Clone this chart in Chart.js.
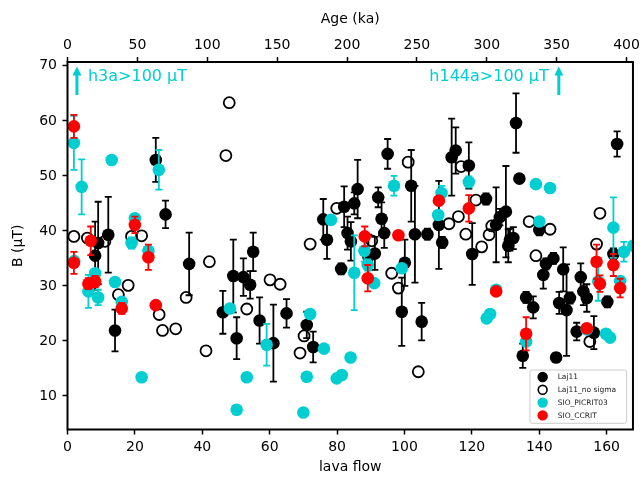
<!DOCTYPE html>
<html>
<head>
<meta charset="utf-8">
<script src="https://cdn.jsdelivr.net/npm/chart.js@4.4.1/dist/chart.umd.min.js"></script>
<style>
  html, body { margin: 0; padding: 0; background: #fff; }
  canvas { display: block; }
</style>
</head>
<body>
<canvas id="grafico" width="643" height="477"></canvas>
<script>
// Laj11 (com sigma)
const laj11Fluxo = [8.2, 9.1, 12.1, 14.1, 26.2, 29.1, 36.1, 46.1, 49.2, 50.2, 52.2, 54.2, 55.1, 57.0, 61.1, 65.0, 71.0, 72.9, 75.9, 77.0, 81.2, 82.1, 83.1, 84.1, 85.1, 86.1, 89.3, 91.2, 92.2, 93.2, 94.0, 95.0, 99.2, 100.1, 102.0, 103.1, 105.1, 106.8, 110.2, 111.2, 114.0, 115.2, 119.1, 120.1, 124.2, 127.2, 128.3, 130.1, 130.8, 131.3, 132.3, 133.1, 134.1, 135.1, 136.1, 138.2, 140.0, 141.2, 142.0, 144.2, 145.0, 145.9, 147.1, 148.1, 149.1, 151.1, 152.3, 153.1, 154.1, 156.2, 160.2, 162.0, 163.1];
const laj11B = [35.5, 37.8, 39.3, 21.9, 52.9, 43.0, 34.0, 25.2, 31.8, 20.5, 31.6, 30.2, 36.2, 23.7, 19.6, 25.0, 22.9, 18.9, 42.1, 38.4, 33.1, 44.4, 39.6, 38.1, 45.0, 47.6, 35.3, 35.9, 46.1, 42.2, 39.6, 54.0, 25.3, 34.2, 48.2, 39.4, 23.5, 39.4, 41.1, 37.9, 53.4, 54.6, 51.9, 35.8, 45.8, 41.1, 42.5, 43.5, 37.3, 38.4, 38.7, 59.6, 49.5, 17.3, 27.9, 26.1, 40.2, 32.0, 34.0, 35.0, 17.0, 26.9, 33.0, 25.6, 27.8, 21.7, 31.6, 29.0, 27.8, 21.5, 27.1, 35.8, 55.8];
const laj11Erro = [6.2, 7.5, 6.9, 3.8, 4.0, 2.5, 5.7, 3.9, 6.6, 3.8, 3.4, 2.5, 3.5, 4.2, 7.0, 2.6, 2.4, 2.8, 3.7, 3.5, 1.0, 3.7, 3.0, 3.5, 2.0, 5.3, 4.0, 3.0, 1.8, 3.0, 2.7, 2.7, 6.2, 4.2, 6.5, 8.8, 3.4, 1.0, 8.0, 1.0, 7.0, 4.2, 4.2, 5.6, 1.0, 6.8, 1.5, 8.3, 3.0, 2.0, 2.0, 5.4, 0.5, 2.2, 1.0, 2.0, 1.0, 2.5, 1.0, 1.0, 0.8, 2.0, 4.0, 8.3, 1.0, 1.6, 2.5, 2.5, 2.5, 3.0, 1.0, 1.0, 2.3];

// Laj11_no sigma
const semSigmaFluxo = [1.9, 5.9, 11.1, 15.1, 18.0, 19.0, 22.0, 27.2, 28.2, 32.1, 35.2, 41.1, 42.1, 47.0, 48.0, 53.2, 60.1, 63.1, 69.0, 70.2, 72.0, 79.9, 90.3, 96.2, 98.2, 101.1, 104.1, 113.2, 116.0, 116.8, 118.2, 121.2, 122.9, 125.1, 125.9, 137.0, 139.0, 143.2, 155.0, 157.0, 158.0];
const semSigmaB = [39.0, 38.7, 38.1, 28.4, 30.1, 39.0, 39.1, 24.8, 21.9, 22.2, 27.9, 18.2, 34.4, 53.7, 63.3, 25.8, 31.1, 30.3, 17.8, 20.9, 37.6, 44.1, 38.2, 32.3, 29.6, 52.5, 14.4, 41.3, 42.6, 51.7, 39.4, 45.6, 37.1, 39.3, 40.9, 41.7, 35.5, 40.3, 19.9, 37.6, 43.2];

// SIO_PICRIT03
const picritFluxo = [1.9, 2.0, 4.2, 6.2, 8.2, 9.1, 13.1, 14.1, 16.1, 19.0, 20.0, 22.0, 24.0, 27.1, 48.2, 50.2, 53.2, 59.1, 70.0, 71.0, 72.0, 76.1, 78.2, 79.9, 81.4, 84.0, 85.1, 88.1, 89.1, 91.0, 96.9, 99.2, 110.0, 111.0, 119.1, 124.4, 125.4, 127.2, 136.1, 139.0, 140.0, 143.2, 154.1, 157.5, 159.8, 161.0, 162.0, 164.0, 165.1, 167.9, 168.5];
const picritB = [56.0, 34.5, 48.0, 29.0, 32.3, 27.9, 52.9, 30.7, 27.1, 37.8, 42.3, 13.4, 36.4, 51.1, 25.9, 7.5, 13.4, 19.3, 7.0, 13.5, 24.9, 18.6, 42.0, 13.2, 13.8, 17.0, 32.4, 36.4, 33.8, 30.5, 48.2, 33.2, 42.9, 46.9, 48.9, 24.1, 24.9, 29.3, 19.9, 48.5, 41.7, 47.8, 22.1, 30.8, 21.3, 20.6, 40.6, 30.9, 36.2, 37.3, 40.4];
const picritErro = [4.9, 0.5, 5.0, 3.0, 0, 1.4, 0, 0, 0.5, 1.0, 0.5, 0.5, 0.5, 3.6, 0, 0, 0, 3.8, 0, 0, 0, 0, 0, 0, 0, 0, 6.8, 2.0, 1.0, 0, 1.8, 0, 0, 1.3, 1.0, 0, 0, 0.5, 0, 0, 0, 0, 0, 3.5, 0, 0, 5.5, 0.5, 1.8, 0, 0];

// SIO_CCRIT
const ccritFluxo = [1.9, 1.9, 6.2, 6.9, 8.2, 16.1, 20.0, 24.0, 26.2, 88.2, 89.1, 98.2, 110.2, 119.1, 127.2, 136.1, 154.1, 157.0, 158.0, 162.0, 164.0];
const ccritB = [59.0, 34.2, 30.4, 38.2, 30.8, 25.9, 41.1, 35.2, 26.5, 39.0, 31.4, 39.2, 45.5, 44.1, 29.0, 21.3, 22.3, 34.4, 30.4, 33.8, 29.6];
const ccritErro = [2.1, 2.0, 1.0, 2.6, 1.0, 1.0, 1.5, 2.3, 0, 1.8, 2.4, 0.5, 0.5, 2.4, 0.5, 3.0, 0.5, 3.1, 1.5, 2.0, 1.7];

// eixos
const fluxoMin = 0, fluxoMax = 167.8, fluxoPasso = 20;
const idadeMin = 0, idadeMax = 404.6, idadePasso = 50;
const bMin = 3.9, bMax = 70.7, bPasso = 10;

// setas (h3a e h144a acima de 100 uT)
const setasFluxo = [2.8, 145.8];
const setasTexto = ["h3a>100 μT", "h144a>100 μT"];
const setaBase = 64.7;
const setaPonta = 69.9;

const CIANO = "#00CED1";
const VERMELHO = "#FF0000";
const FONTE = "'DejaVu Sans', sans-serif";

Chart.defaults.font.family = FONTE;
Chart.defaults.color = "#000";

function pontos(xs, ys) {
  return xs.map((x, i) => ({ x, y: ys[i] }));
}

const pluginBarrasErro = {
  id: "barrasErro",
  beforeDatasetDraw(chart, args) {
    const ds = chart.data.datasets[args.index];
    if (!ds.erros) return;
    const ctx = chart.ctx;
    const escalaY = chart.scales.y;
    const area = chart.chartArea;
    ctx.save();
    ctx.beginPath();
    ctx.rect(area.left, area.top, area.right - area.left, area.bottom - area.top);
    ctx.clip();
    ctx.strokeStyle = ds.corErro;
    ctx.lineWidth = 1.8;
    args.meta.data.forEach((p, i) => {
      const e = ds.erros[i];
      if (!e) return;
      const v = ds.data[i].y;
      const yTopo = escalaY.getPixelForValue(v + e);
      const yBase = escalaY.getPixelForValue(v - e);
      ctx.beginPath();
      ctx.moveTo(p.x, yTopo);
      ctx.lineTo(p.x, yBase);
      ctx.moveTo(p.x - 3.5, yTopo);
      ctx.lineTo(p.x + 3.5, yTopo);
      ctx.moveTo(p.x - 3.5, yBase);
      ctx.lineTo(p.x + 3.5, yBase);
      ctx.stroke();
    });
    ctx.restore();
  }
};

const pluginMoldura = {
  id: "moldura",
  afterDraw(chart) {
    const ctx = chart.ctx;
    const area = chart.chartArea;
    const sx = chart.scales.x;
    const sy = chart.scales.y;

    // setas e textos
    ctx.save();
    ctx.fillStyle = CIANO;
    setasFluxo.forEach((f, i) => {
      const px = sx.getPixelForValue(f);
      const y0 = sy.getPixelForValue(setaBase);
      const y1 = sy.getPixelForValue(setaPonta);
      ctx.fillRect(px - 1.5, y1 + 8, 3, y0 - y1 - 8);
      ctx.beginPath();
      ctx.moveTo(px, y1);
      ctx.lineTo(px - 4.5, y1 + 9);
      ctx.lineTo(px + 4.5, y1 + 9);
      ctx.closePath();
      ctx.fill();

      ctx.font = "16px " + FONTE;
      ctx.textBaseline = "middle";
      if (i === 0) {
        ctx.textAlign = "left";
        ctx.fillText(setasTexto[i], px + 11, 77);
      } else {
        ctx.textAlign = "right";
        ctx.fillText(setasTexto[i], px - 10, 77);
      }
    });
    ctx.restore();

    // legenda
    const caixa = { x: area.right - 103, y: area.bottom - 59.5, w: 96.7, h: 53.3 };
    ctx.save();
    ctx.fillStyle = "rgba(255,255,255,0.85)";
    ctx.strokeStyle = "#cccccc";
    ctx.lineWidth = 1;
    ctx.beginPath();
    ctx.roundRect(caixa.x, caixa.y, caixa.w, caixa.h, 2);
    ctx.fill();
    ctx.stroke();
    const itens = [
      { nome: "Laj11", cor: "#000", cheio: true },
      { nome: "Laj11_no sigma", cor: "#000", cheio: false },
      { nome: "SIO_PICRIT03", cor: CIANO, cheio: true },
      { nome: "SIO_CCRIT", cor: VERMELHO, cheio: true }
    ];
    ctx.font = "7.5px " + FONTE;
    ctx.textBaseline = "middle";
    ctx.textAlign = "left";
    itens.forEach((it, i) => {
      const cy = caixa.y + 7 + i * 12.8;
      const cx = caixa.x + 12.7;
      ctx.beginPath();
      if (it.cheio) {
        ctx.arc(cx, cy, 5.2, 0, Math.PI * 2);
        ctx.fillStyle = it.cor;
        ctx.fill();
      } else {
        ctx.arc(cx, cy, 4.4, 0, Math.PI * 2);
        ctx.strokeStyle = it.cor;
        ctx.lineWidth = 1.6;
        ctx.stroke();
      }
      ctx.fillStyle = "#222";
      ctx.fillText(it.nome, caixa.x + 27.7, cy + 0.5);
    });
    ctx.restore();

    // moldura do grafico
    ctx.save();
    ctx.strokeStyle = "#000";
    ctx.lineWidth = 2;
    ctx.strokeRect(area.left, area.top, area.right - area.left, area.bottom - area.top);
    ctx.restore();
  }
};

const eixoBase = {
  type: "linear",
  border: { display: false },
  grid: {
    drawOnChartArea: false,
    drawTicks: true,
    tickLength: 5,
    tickWidth: 1.5,
    tickColor: "#000"
  }
};

const grafico = new Chart(document.getElementById("grafico"), {
  type: "scatter",
  data: {
    datasets: [
      {
        label: "Laj11",
        data: pontos(laj11Fluxo, laj11B),
        erros: laj11Erro,
        corErro: "#000",
        backgroundColor: "#000",
        borderColor: "#000",
        borderWidth: 0,
        pointRadius: 6.3,
        order: 4,
        clip: 0
      },
      {
        label: "Laj11_no sigma",
        data: pontos(semSigmaFluxo, semSigmaB),
        backgroundColor: "rgba(0,0,0,0)",
        borderColor: "#000",
        borderWidth: 1.8,
        pointRadius: 5.5,
        order: 3,
        clip: 0
      },
      {
        label: "SIO_PICRIT03",
        data: pontos(picritFluxo, picritB),
        erros: picritErro,
        corErro: CIANO,
        backgroundColor: CIANO,
        borderColor: CIANO,
        borderWidth: 0,
        pointRadius: 6.3,
        order: 2,
        clip: 0
      },
      {
        label: "SIO_CCRIT",
        data: pontos(ccritFluxo, ccritB),
        erros: ccritErro,
        corErro: VERMELHO,
        backgroundColor: VERMELHO,
        borderColor: VERMELHO,
        borderWidth: 0,
        pointRadius: 6.3,
        order: 1,
        clip: 0
      }
    ]
  },
  options: {
    responsive: false,
    animation: false,
    layout: { padding: { left: 0, right: 10, top: 0, bottom: 0 } },
    plugins: {
      legend: { display: false },
      tooltip: { enabled: false }
    },
    scales: {
      x: {
        ...eixoBase,
        position: "bottom",
        min: fluxoMin,
        max: fluxoMax,
        ticks: { stepSize: fluxoPasso, includeBounds: false, padding: 4, color: "#000", font: { size: 14 } },
        title: { display: true, text: "lava flow", color: "#000", font: { size: 14 }, padding: { top: 0, bottom: 1.5 } },
        afterFit(escala) { escala.height = 47.5; }
      },
      x2: {
        ...eixoBase,
        axis: "x",
        position: "top",
        min: idadeMin,
        max: idadeMax,
        ticks: { stepSize: idadePasso, includeBounds: false, padding: 3, color: "#000", font: { size: 14 } },
        title: { display: true, text: "Age (ka)", color: "#000", font: { size: 14 }, padding: { top: 11, bottom: 0 } },
        afterFit(escala) { escala.height = 62; }
      },
      y: {
        ...eixoBase,
        position: "left",
        min: bMin,
        max: bMax,
        ticks: { stepSize: bPasso, includeBounds: false, padding: 5.5, color: "#000", font: { size: 14 } },
        title: { display: true, text: "B (μT)", color: "#000", font: { size: 14 }, padding: { top: 9.6, bottom: 0 } },
        afterFit(escala) { escala.width = 67.5; }
      }
    }
  },
  plugins: [pluginBarrasErro, pluginMoldura]
});
</script>
</body>
</html>
